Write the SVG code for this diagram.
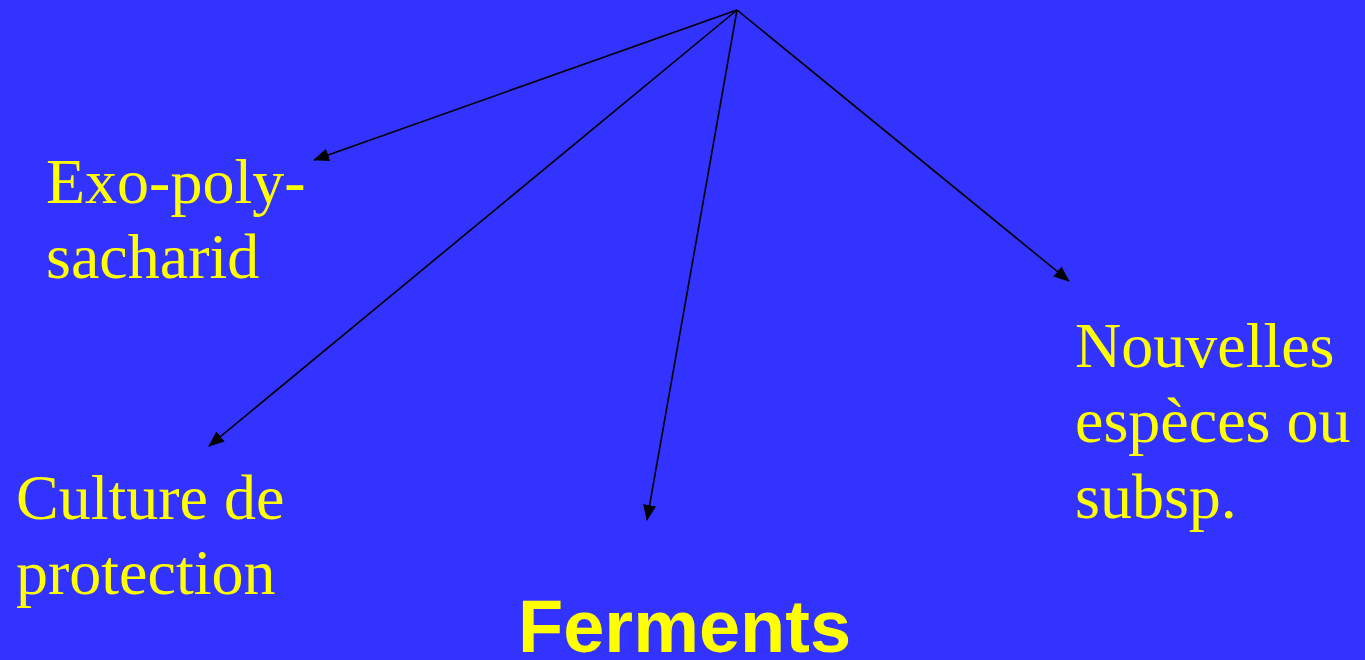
<svg xmlns="http://www.w3.org/2000/svg" width="1365" height="660" viewBox="0 0 1365 660">
<style>
.t{font-family:"Liberation Serif","Times New Roman",serif;font-size:64px;fill:#FFFF00}
.b{font-family:"Liberation Sans",Arial,sans-serif;font-size:74px;font-weight:bold;fill:#FFFF00}
.c{stroke:#000;stroke-width:1.6;fill:none;marker-end:url(#ah)}
</style>
<defs>
<marker id="ah" markerWidth="16" markerHeight="13" refX="15" refY="6.5" orient="auto" markerUnits="userSpaceOnUse">
<path d="M0,0 L16,6.5 L0,13 Z" fill="#000"/>
</marker>
</defs>
<rect width="1365" height="660" fill="#3333FF"/>
<g id="connectors">
<line class="c" x1="737" y1="10" x2="314" y2="160"/>
<line class="c" x1="737" y1="10" x2="209" y2="446"/>
<line class="c" x1="737" y1="10" x2="647" y2="520"/>
<line class="c" x1="737" y1="10" x2="1069" y2="281"/>
</g>
<g id="exo"><text class="t" x="46" y="203">Exo-poly-</text><text class="t" x="46" y="278">sacharid</text></g>
<g id="culture"><text class="t" x="16" y="519">Culture de</text><text class="t" x="16" y="594">protection</text></g>
<g id="nouvelles"><text class="t" x="1075" y="367">Nouvelles</text><text class="t" x="1075" y="442">espèces ou</text><text class="t" x="1075" y="518">subsp.</text></g>
<g id="ferments"><text class="b" x="518" y="652">Ferments</text></g>
</svg>
